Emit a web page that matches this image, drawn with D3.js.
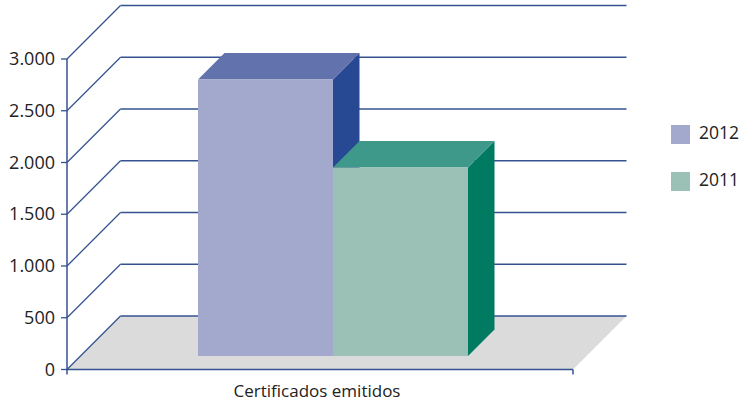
<!DOCTYPE html>
<meta charset="utf-8">
<style>
body { margin: 0; background: #fff; }
text { font-family: "Open Sans", "Noto Sans", sans-serif; fill: #222; }
</style>
<svg width="744" height="405"></svg>
<script src="https://d3js.org/d3.v7.min.js"></script>
<script>
var years = ["2012", "2011"];
var values = [2672, 1822];
var category = "Certificados emitidos";
var yTicks = [0, 500, 1000, 1500, 2000, 2500, 3000];
var tickLabels = ["0", "500", "1.000", "1.500", "2.000", "2.500", "3.000"];

var frontColours = ["#a3a9cd", "#9bc1b6"];
var topColours = ["#6272ac", "#3e998a"];
var sideColours = ["#274892", "#017a62"];
var lineColour = "#34528f";

var svg = d3.select("svg");

var y = d3.scaleLinear().domain([0, 3000]).range([369.5, 59]);
var x = d3.scaleBand().domain(years).range([198, 468]);

// 3d offsets
var depth = 53.5, barDepth = 26.5, barFront = 13.5;

function poly(pts, fill) {
  return svg.append("polygon")
    .attr("points", pts.map(function(p) { return p.join(","); }).join(" "))
    .attr("fill", fill);
}
function line(x1, y1, x2, y2, w) {
  svg.append("line")
    .attr("x1", x1).attr("y1", y1).attr("x2", x2).attr("y2", y2)
    .attr("stroke", lineColour)
    .attr("stroke-width", w || 1.3);
}

var left = 67, right = 573;

// floor
poly([[left, y(0)], [left + depth, y(0) - depth], [right + depth, y(0) - depth], [right, y(0)]], "#dbdbdb");

// grid on wall
yTicks.forEach(function(t) {
  line(left, y(t), left + depth, y(t) - depth);
  line(left + depth, y(t) - depth, right + depth, y(t) - depth, 1.5);
  line(left - 6, y(t), left, y(t));
});

// axes
line(left, y(3000), left, y(0) + 5, 1.5);
line(left, y(0), right, y(0), 1.5);
line(right, y(0), right, y(0) + 5, 1.5);

// bars
years.forEach(function(yr, i) {
  var x0 = x(yr), x1 = x0 + x.bandwidth();
  var bottom = y(0) - barFront;
  var top = y(values[i]) - barFront;
  var d = barDepth;
  poly([[x1, bottom], [x1 + d, bottom - d], [x1 + d, top - d], [x1, top]], sideColours[i]);
  poly([[x0, top], [x0 + d, top - d], [x1 + d, top - d], [x1, top]], topColours[i]);
  poly([[x0, top], [x1, top], [x1, bottom], [x0, bottom]], frontColours[i]);
});

// tick labels
svg.selectAll(".tick-label")
  .data(yTicks)
  .enter().append("text")
  .attr("class", "tick-label")
  .attr("x", 55)
  .attr("y", function(d) { return y(d) + 6; })
  .attr("text-anchor", "end")
  .attr("font-size", 18)
  .text(function(d, i) { return tickLabels[i]; });

svg.append("text")
  .attr("x", (left + right) / 2 - 3)
  .attr("y", 397)
  .attr("text-anchor", "middle")
  .attr("font-size", 17)
  .text(category);

// legend
var legendY = d3.scalePoint().domain(years).range([125, 172]);
years.forEach(function(yr, i) {
  svg.append("rect")
    .attr("x", 671).attr("y", legendY(yr))
    .attr("width", 19).attr("height", 19)
    .attr("fill", frontColours[i]);
  svg.append("text")
    .attr("x", 699).attr("y", legendY(yr) + 14)
    .attr("font-size", 17.5)
    .text(yr);
});
</script>
